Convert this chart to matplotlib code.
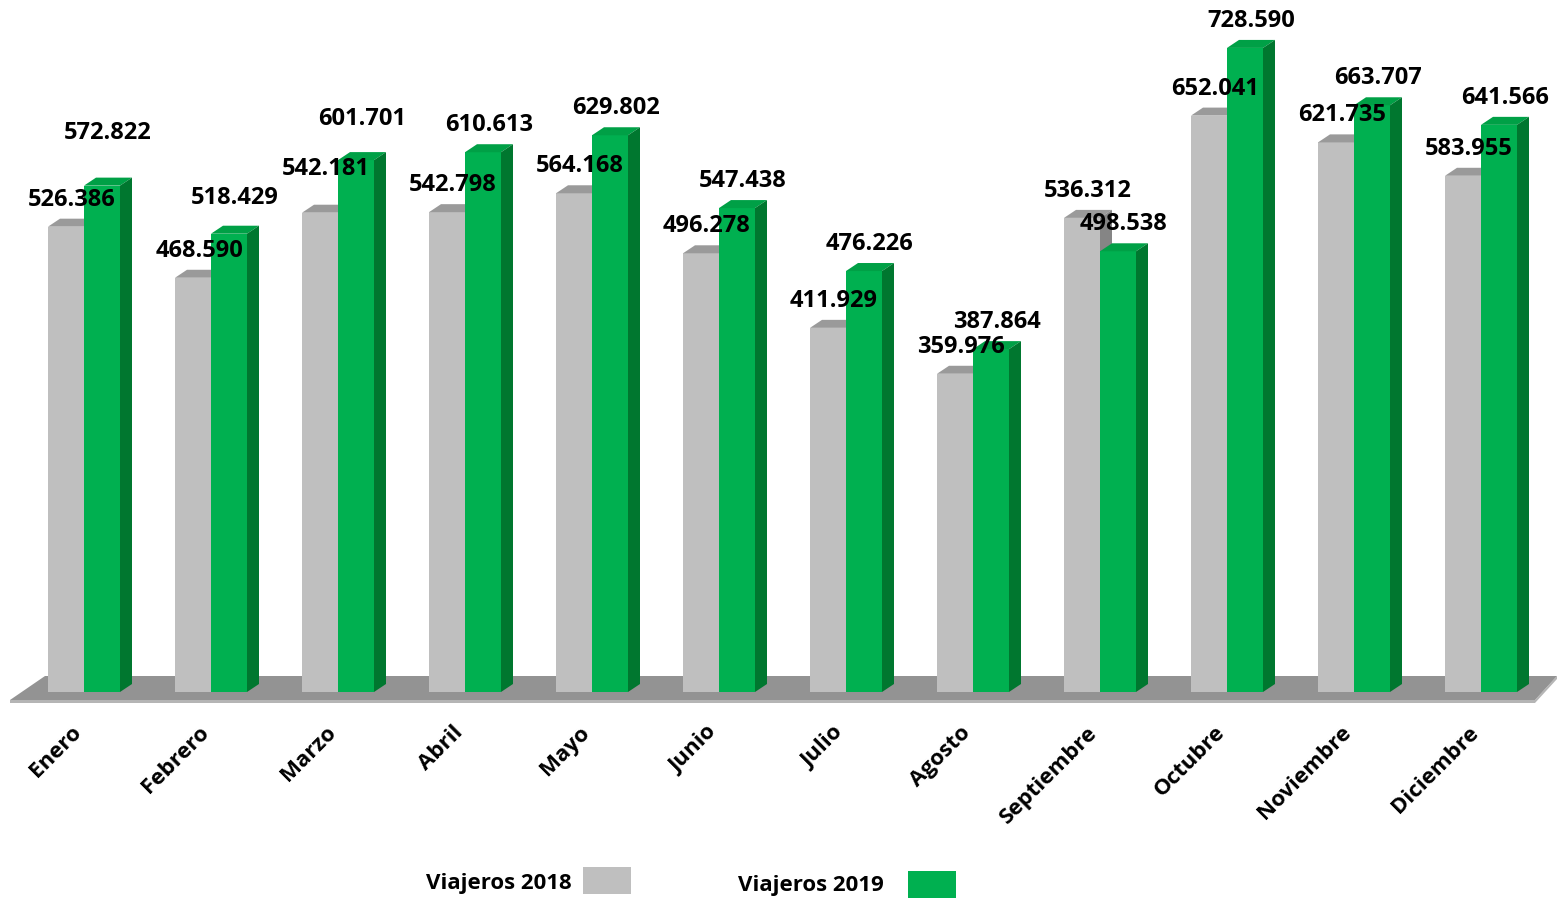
import matplotlib.pyplot as plt
from matplotlib.patches import Polygon, Rectangle

months = ["Enero", "Febrero", "Marzo", "Abril", "Mayo", "Junio", "Julio",
          "Agosto", "Septiembre", "Octubre", "Noviembre", "Diciembre"]
viajeros_2018 = [526386, 468590, 542181, 542798, 564168, 496278, 411929,
                 359976, 536312, 652041, 621735, 583955]
viajeros_2019 = [572822, 518429, 601701, 610613, 629802, 547438, 476226,
                 387864, 498538, 728590, 663707, 641566]
series_names = ["Viajeros 2018", "Viajeros 2019"]

# a few labels were nudged upward by hand in the original (extra px)
lift_2018 = [0, 0, 17, 0, 0, 0, 0, 0, 0, 0, 0, 0]
lift_2019 = [26, 9, 14, 0, 0, 0, 0, 0, 0, 0, 0, 0]

GRAY = {"front": "#bfbfbf", "top": "#9a9a9a", "side": "#858585"}
GREEN = {"front": "#00b050", "top": "#00a046", "side": "#00772f"}

W, H = 1557, 900
PX_PER_UNIT = 0.884 / 1000      # px per traveller
BASE_PX = 692                    # pixel row of the value 0
GROUP_PX = 127
ORIGIN_PX = 84                   # pixel col of group 0 centre

bw = 36 / GROUP_PX
ddx = 12 / GROUP_PX
ddy = 8 / PX_PER_UNIT

fig = plt.figure(figsize=(W / 100, H / 100), dpi=100)
ax = fig.add_axes([0, 0, 1, 1])
ax.set_xlim(-ORIGIN_PX / GROUP_PX, (W - ORIGIN_PX) / GROUP_PX)
ax.set_ylim(-(H - BASE_PX) / PX_PER_UNIT, BASE_PX / PX_PER_UNIT)
ax.axis("off")

font = "Open Sans"

# floor
fy_front = -8 / PX_PER_UNIT
fy_back = 16 / PX_PER_UNIT
edge = 3 / PX_PER_UNIT
fx = [(10 - ORIGIN_PX) / GROUP_PX, (1535 - ORIGIN_PX) / GROUP_PX,
      (1557 - ORIGIN_PX) / GROUP_PX, (45 - ORIGIN_PX) / GROUP_PX]
ax.add_patch(Polygon([(fx[0], fy_front - edge), (fx[1], fy_front - edge),
                      (fx[2], fy_back - edge), (fx[2], fy_back),
                      (fx[1], fy_front), (fx[0], fy_front)],
                     closed=True, facecolor="#b5b5b5", edgecolor="none", zorder=1))
ax.add_patch(Polygon([(fx[0], fy_front), (fx[1], fy_front),
                      (fx[2], fy_back), (fx[3], fy_back)],
                     closed=True, facecolor="#939393", edgecolor="none", zorder=1))


def bar3d(x_left, value, col, z):
    ax.bar(x_left, value, width=bw, align="edge", color=col["front"],
           edgecolor="none", zorder=z)
    x_right = x_left + bw
    ax.add_patch(Polygon([(x_left, value), (x_right, value),
                          (x_right + ddx, value + ddy), (x_left + ddx, value + ddy)],
                         closed=True, facecolor=col["top"], edgecolor="none", zorder=z))
    ax.add_patch(Polygon([(x_right, 0), (x_right + ddx, ddy),
                          (x_right + ddx, value + ddy), (x_right, value)],
                         closed=True, facecolor=col["side"], edgecolor="none", zorder=z))


def fmt(v):
    return f"{v:,}".replace(",", ".")


for i in range(len(months)):
    bar3d(i - bw, viajeros_2018[i], GRAY, 2)
    bar3d(i, viajeros_2019[i], GREEN, 3)

for i in range(len(months)):
    for x_left, v, lift in ((i - bw, viajeros_2018[i], lift_2018[i]),
                            (i, viajeros_2019[i], lift_2019[i])):
        ax.text(x_left + bw / 2 + ddx / 2, v + (27 + lift) / PX_PER_UNIT, fmt(v),
                ha="center", va="center", fontsize=17, fontweight="bold",
                family=font, color="black", zorder=5)

    ax.text(i - 13 / GROUP_PX, -30 / PX_PER_UNIT, months[i], rotation=45,
            rotation_mode="anchor", ha="right", va="top", fontsize=16,
            fontweight="bold", family=font)

# legend
fig.text(572 / W, 1 - 883 / H, series_names[0], ha="right", va="center",
         fontsize=16, fontweight="bold", family=font)
fig.patches.append(Rectangle((583 / W, 1 - 894 / H), 48 / W, 27 / H,
                             transform=fig.transFigure, facecolor=GRAY["front"],
                             edgecolor="none"))
fig.text(884 / W, 1 - 885 / H, series_names[1], ha="right", va="center",
         fontsize=16, fontweight="bold", family=font)
fig.patches.append(Rectangle((908 / W, 1 - 898 / H), 48 / W, 27 / H,
                             transform=fig.transFigure, facecolor=GREEN["front"],
                             edgecolor="none"))

fig.savefig("out.png", dpi=100, facecolor="white")
